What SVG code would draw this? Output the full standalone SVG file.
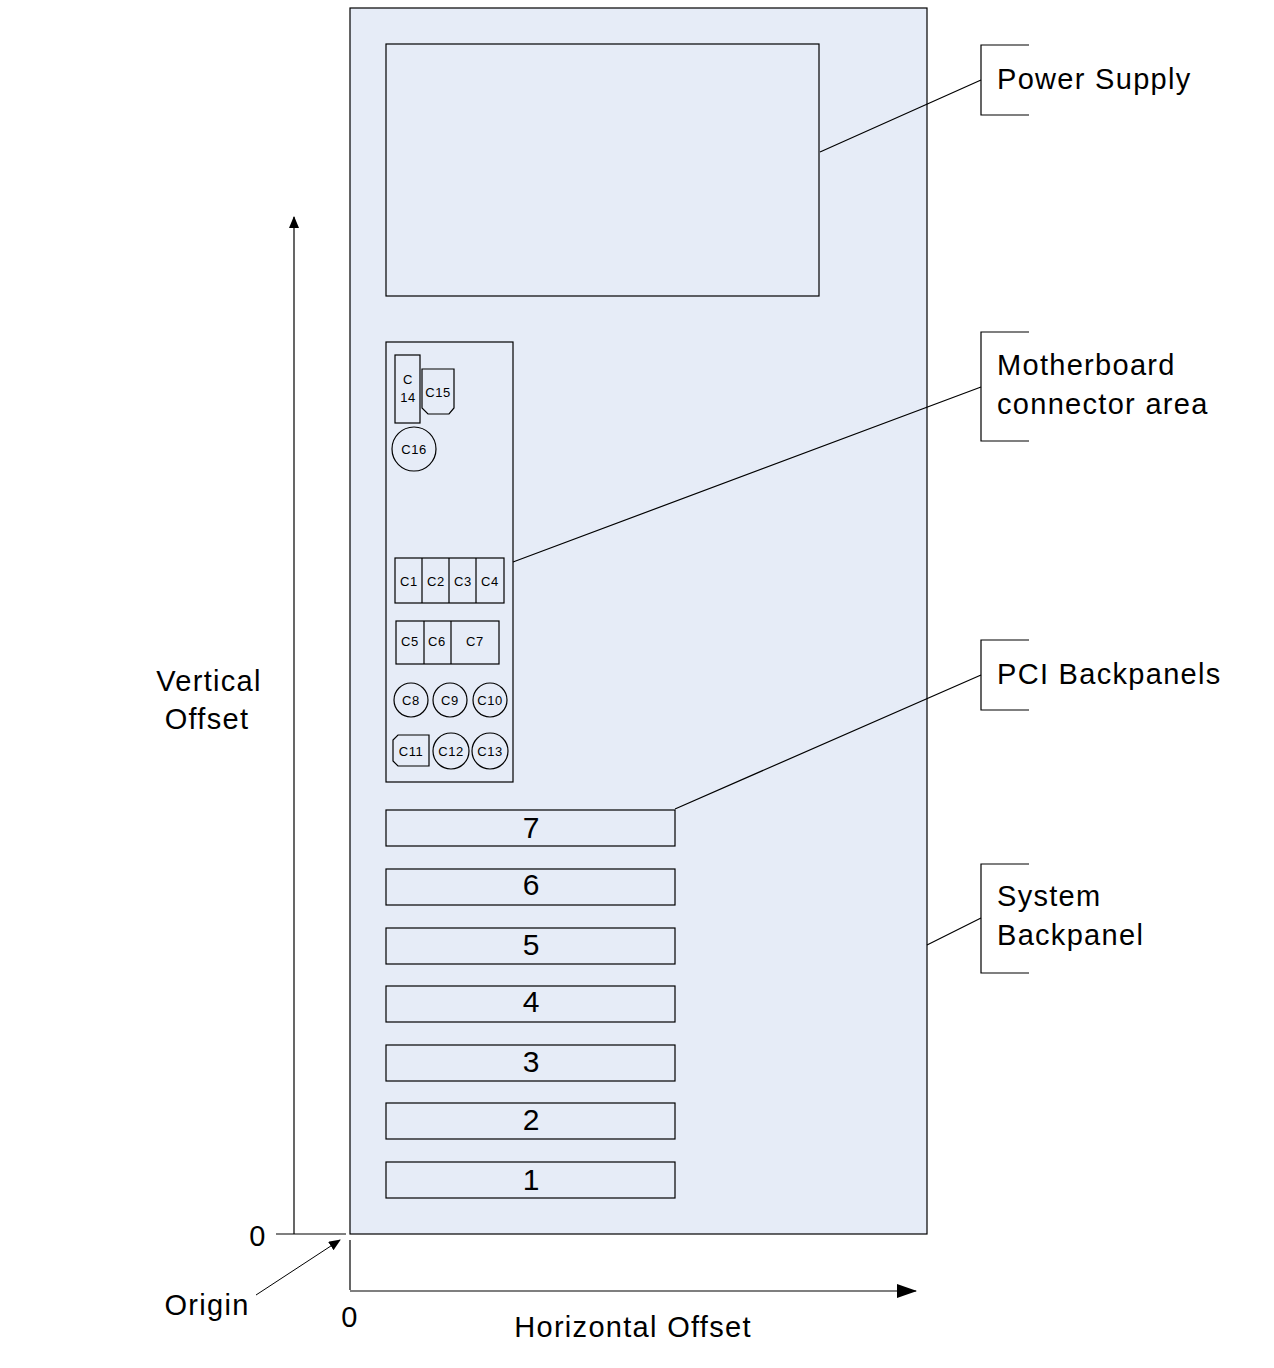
<svg xmlns="http://www.w3.org/2000/svg" width="1274" height="1368" viewBox="0 0 1274 1368">
<style>
.b{fill:none;stroke:#000;stroke-width:1.2}
.f{fill:#e6ecf7;stroke:#000;stroke-width:1.2}
.t{font-family:"Liberation Sans",Arial,sans-serif;fill:#000}
.s{font-size:13px;text-anchor:middle;letter-spacing:0.6px}
.n{font-size:30px;text-anchor:middle}
.l{font-size:29px;letter-spacing:1.3px}
</style>
<defs><marker id="a" markerWidth="12" markerHeight="10" refX="11" refY="5" orient="auto" markerUnits="userSpaceOnUse"><path d="M0,0L12,5L0,10z"/></marker>
<marker id="a2" markerWidth="20" markerHeight="14" refX="19" refY="7" orient="auto" markerUnits="userSpaceOnUse"><path d="M0,0L20,7L0,14z"/></marker></defs>
<rect width="1274" height="1368" fill="#fff"/>
<g id="case"><rect class="f" x="350" y="8" width="577" height="1226"/></g>
<g id="psu"><rect class="f" x="386" y="44" width="433" height="252"/></g>
<g id="mobo" class="t">
<rect class="f" x="386" y="342" width="127" height="440"/>
<rect class="b" x="395" y="355" width="25" height="68"/><text class="t s" x="408" y="384">C</text><text class="t s" x="408" y="402">14</text>
<path class="b" d="M422,369H454V408L449,414H428L422,408Z"/><text class="t s" x="438" y="397">C15</text>
<circle class="b" cx="414" cy="449" r="22"/><text class="t s" x="414" y="454">C16</text>
<rect class="b" x="395" y="558" width="109" height="45"/><path class="b" d="M422,558V603M449,558V603M476,558V603"/>
<text class="t s" x="409" y="586">C1</text><text class="t s" x="436" y="586">C2</text><text class="t s" x="463" y="586">C3</text><text class="t s" x="490" y="586">C4</text>
<rect class="b" x="396" y="621" width="103" height="43"/><path class="b" d="M424,621V664M451,621V664"/>
<text class="t s" x="410" y="646">C5</text><text class="t s" x="437" y="646">C6</text><text class="t s" x="475" y="646">C7</text>
<circle class="b" cx="411" cy="700" r="17"/><circle class="b" cx="450" cy="700" r="17"/><circle class="b" cx="490" cy="700" r="17"/>
<text class="t s" x="411" y="705">C8</text><text class="t s" x="450" y="705">C9</text><text class="t s" x="490" y="705">C10</text>
<path class="b" d="M398,735H429V766H398L393,761V740Z"/><text class="t s" x="411" y="756">C11</text>
<circle class="b" cx="451" cy="751" r="18"/><circle class="b" cx="490" cy="751" r="18"/>
<text class="t s" x="451" y="756">C12</text><text class="t s" x="490" y="756">C13</text>
</g>
<g id="slots">
<rect class="f" x="386" y="810" width="289" height="36"/><text class="t n" x="531" y="838">7</text>
<rect class="f" x="386" y="869" width="289" height="36"/><text class="t n" x="531" y="895">6</text>
<rect class="f" x="386" y="928" width="289" height="36"/><text class="t n" x="531" y="955">5</text>
<rect class="f" x="386" y="986" width="289" height="36"/><text class="t n" x="531" y="1012">4</text>
<rect class="f" x="386" y="1045" width="289" height="36"/><text class="t n" x="531" y="1072">3</text>
<rect class="f" x="386" y="1103" width="289" height="36"/><text class="t n" x="531" y="1130">2</text>
<rect class="f" x="386" y="1162" width="289" height="36"/><text class="t n" x="531" y="1190">1</text>
</g>
<g id="callouts" class="b">
<path d="M1029,45H981V115H1029"/><path d="M1029,332H981V441H1029"/><path d="M1029,640H981V710H1029"/><path d="M1029,864H981V973H1029"/>
</g>
<g id="connectors" class="b">
<path d="M820,152L981,80M513,562L981,387M675,809L981,675M927,945L981,918"/>
<path d="M294,1234V217" marker-end="url(#a)"/>
<path d="M276,1234H346"/>
<path d="M350,1240V1290"/>
<path d="M350,1291H916" marker-end="url(#a2)"/>
<path d="M256,1295L340,1240" stroke-width="1" marker-end="url(#a)"/>
</g>
<g id="labels" class="t l">
<text x="997" y="89">Power Supply</text>
<text x="997" y="375">Motherboard</text><text x="997" y="414">connector area</text>
<text x="997" y="684">PCI Backpanels</text>
<text x="997" y="906">System</text><text x="997" y="945">Backpanel</text>
<text x="209" y="691" text-anchor="middle">Vertical</text><text x="207" y="729" text-anchor="middle">Offset</text>
<text x="258" y="1246" text-anchor="middle">0</text>
<text x="350" y="1327" text-anchor="middle">0</text>
<text x="207" y="1315" text-anchor="middle">Origin</text>
<text x="633" y="1337" text-anchor="middle">Horizontal Offset</text>
</g>
</svg>
